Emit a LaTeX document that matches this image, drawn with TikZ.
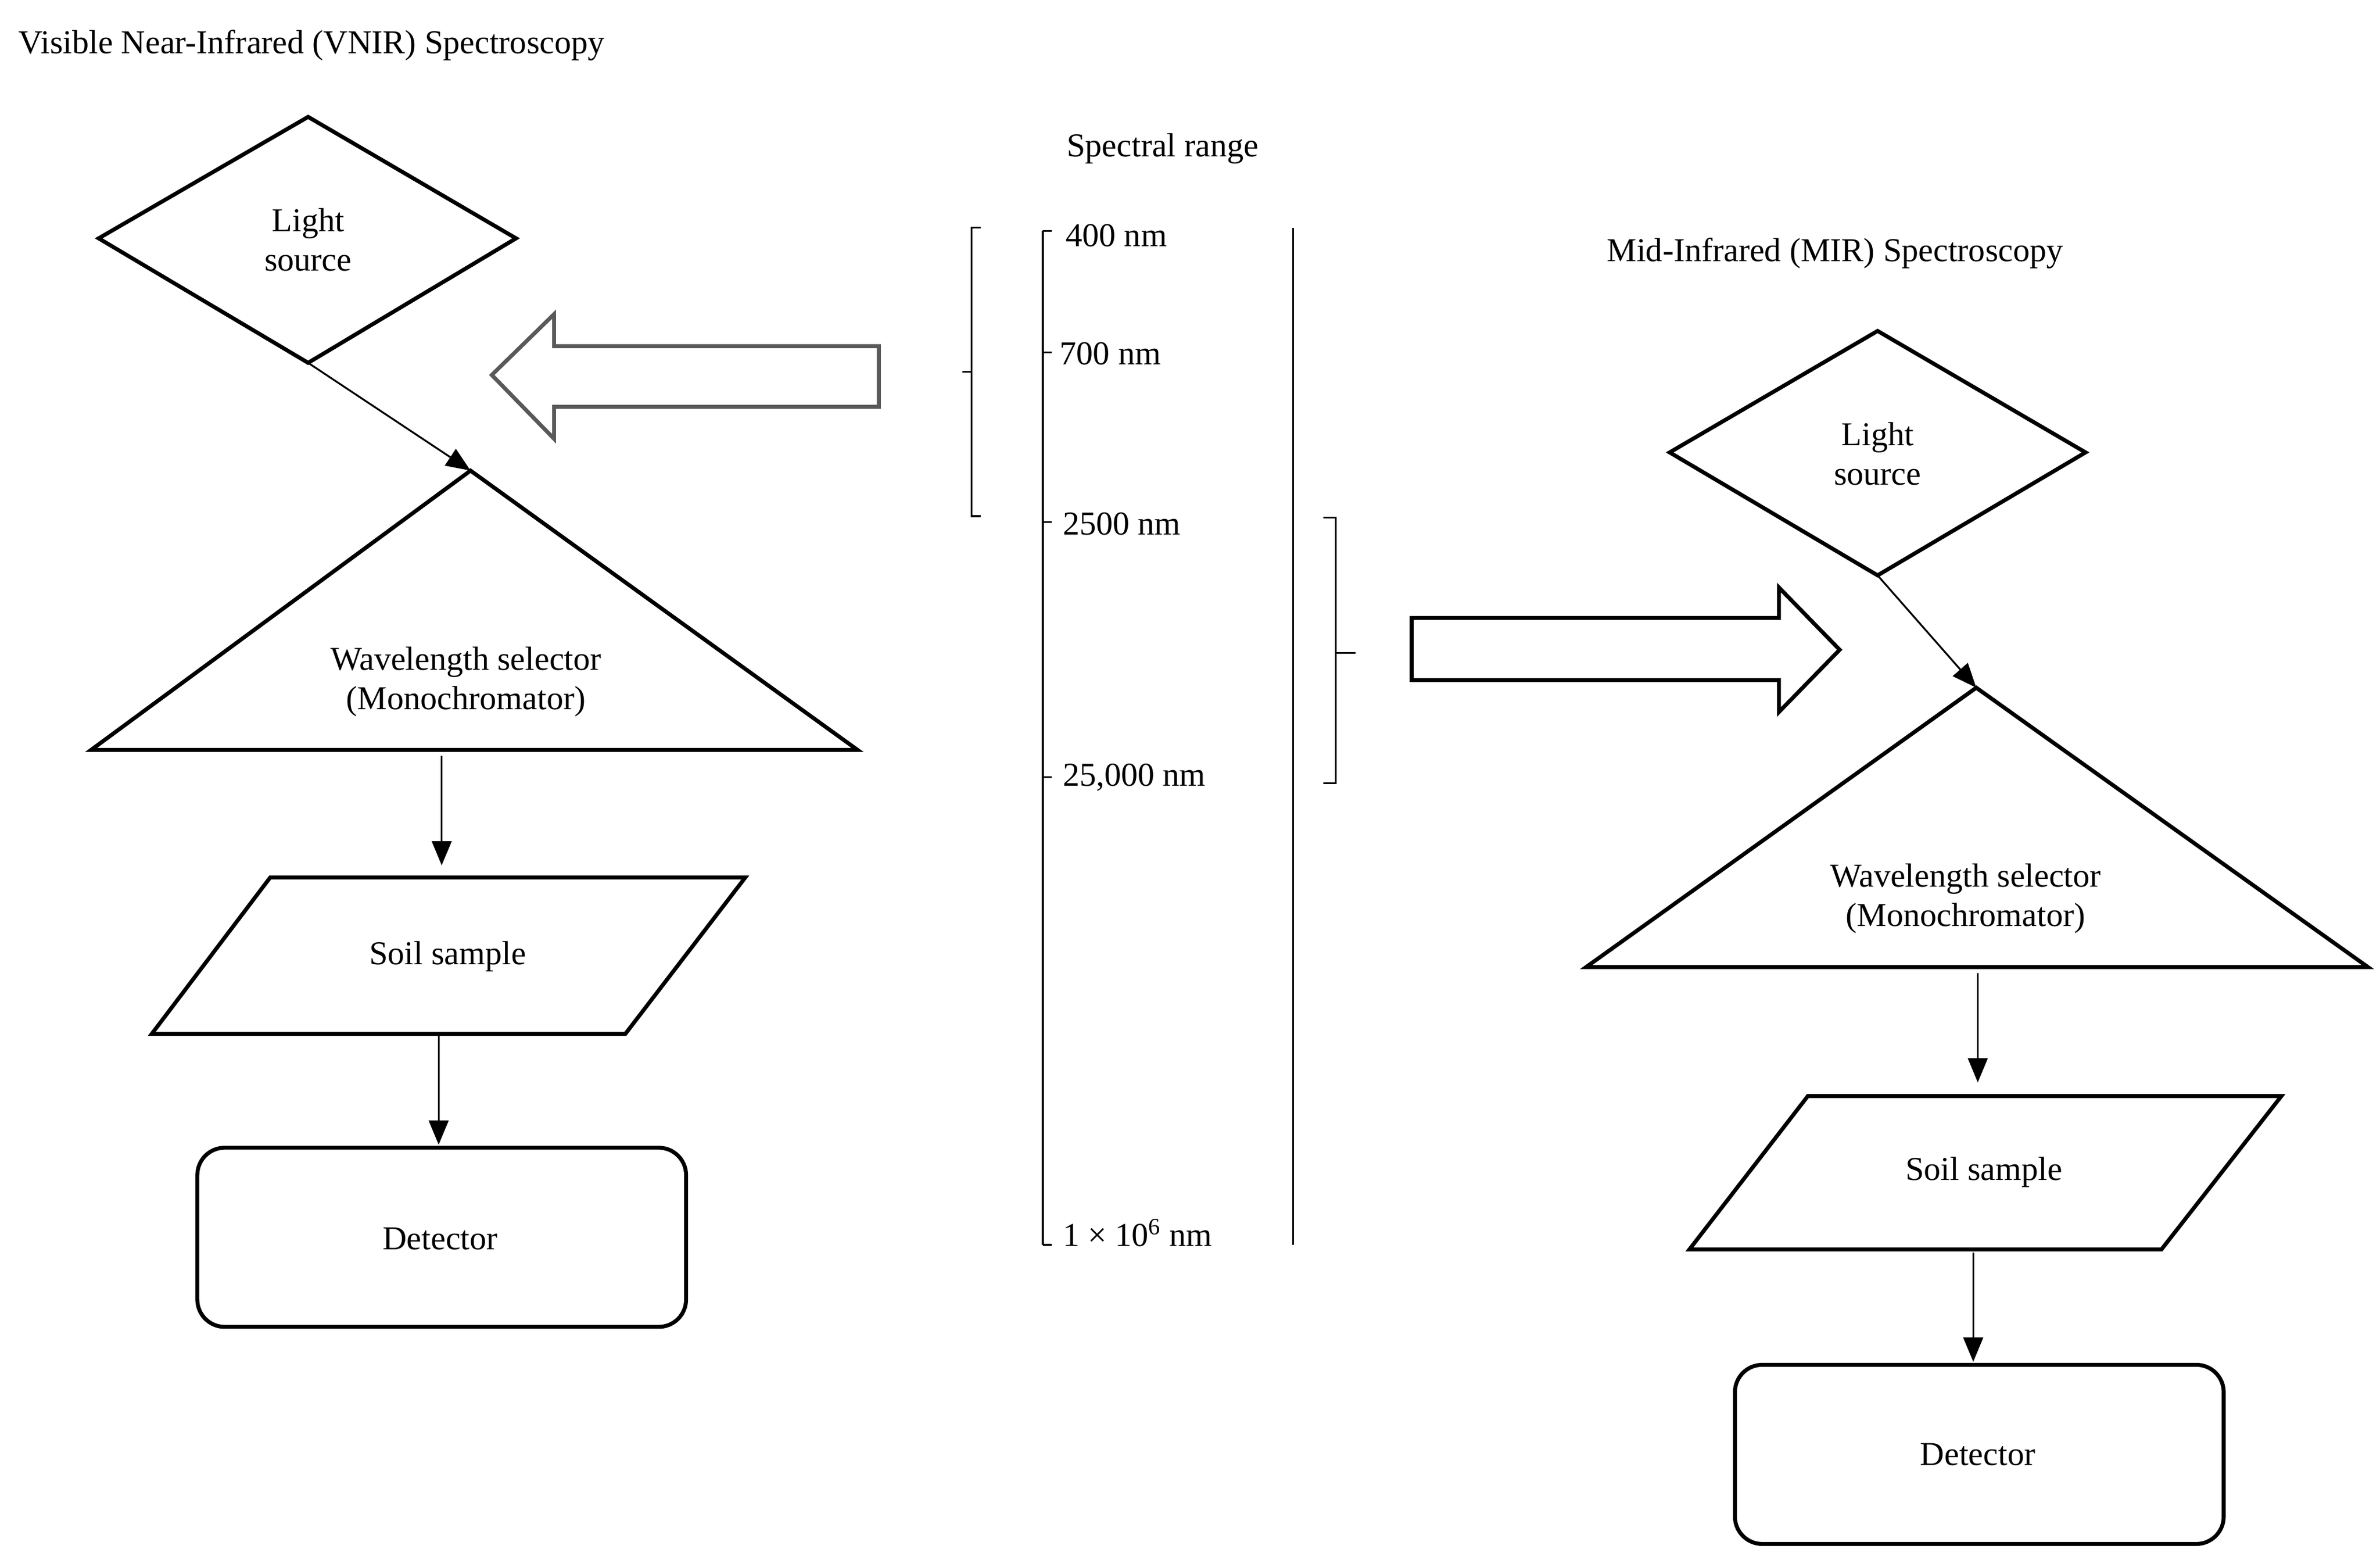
\documentclass[tikz,border=0pt]{standalone}
\usepackage{fontspec}
\setmainfont{Liberation Serif}
\usetikzlibrary{arrows.meta}
\begin{document}
\begin{tikzpicture}[x=1pt,y=-1pt,font=\fontsize{22}{26}\selectfont,
  shp/.style={line width=2.6pt,line join=miter},
  con/.style={line width=1.2pt,-{Triangle[length=16pt,width=13pt]}},
  lab/.style={align=center,inner sep=0pt},
  tick/.style={line width=1.2pt}]
\useasboundingbox (0,0) rectangle (1568,1032);
% titles
\node[lab,anchor=west] (t1) at (12,30) {Visible Near-Infrared (VNIR) Spectroscopy};
\node[lab] (t2) at (766,98) {Spectral range};
\node[lab] (t3) at (1209,167) {Mid-Infrared (MIR) Spectroscopy};
% left chain
\draw[shp] (65,157) -- (203,77) -- (340,157) -- (203,239) -- cycle;
\node[lab] (ls1) at (203,158) {Light\\source};
\coordinate (d1b) at (203,239);
\coordinate (tr1a) at (310,310);
\draw[shp] (310,310) -- (565,494) -- (60,494) -- cycle;
\node[lab] (ws1) at (307,449) {Wavelength selector\\(Monochromator)};
\draw[con] (d1b) -- (tr1a);
\draw[shp] (178,578) -- (491,578) -- (412,681) -- (100,681) -- cycle;
\node[lab] (ss1) at (295,630) {Soil sample};
\coordinate (a1s) at (291,498); \coordinate (a1e) at (291,570);
\draw[con] (a1s) -- (a1e);
\draw[shp,rounded corners=18pt] (130,756) rectangle (452,874);
\node[lab] (de1) at (290,816) {Detector};
\coordinate (a2s) at (289,681); \coordinate (a2e) at (289,754);
\draw[con] (a2s) -- (a2e);
% right chain
\draw[shp] (1100,298) -- (1237,218) -- (1374,298) -- (1237,379) -- cycle;
\node[lab] (ls2) at (1237,299) {Light\\source};
\coordinate (d2b) at (1237,379);
\coordinate (tr2a) at (1302,453);
\draw[shp] (1302,453) -- (1560,637) -- (1045,637) -- cycle;
\node[lab] (ws2) at (1295,592) {Wavelength selector\\(Monochromator)};
\draw[con] (d2b) -- (tr2a);
\draw[shp] (1191,722) -- (1503,722) -- (1424,823) -- (1113,823) -- cycle;
\node[lab] (ss2) at (1307,772) {Soil sample};
\coordinate (b1s) at (1303,641); \coordinate (b1e) at (1303,713);
\draw[con] (b1s) -- (b1e);
\draw[shp,rounded corners=18pt] (1143,899) rectangle (1465,1017);
\node[lab] (de2) at (1303,958) {Detector};
\coordinate (b2s) at (1300,825); \coordinate (b2e) at (1300,897);
\draw[con] (b2s) -- (b2e);
% hollow arrows
\draw[line width=2.6pt,draw=black!65] (579,228) -- (579,268) -- (365,268) -- (365,289) -- (324,247) -- (365,207) -- (365,228) -- cycle;
\draw[shp] (930,407) -- (1172,407) -- (1172,387) -- (1212,428) -- (1172,469) -- (1172,448) -- (930,448) -- cycle;
% axis
\draw[tick] (687,152) -- (687,820);
\foreach \y in {152,232,344,512,820} \draw[tick] (687,\y) -- (693,\y);
\node[lab,anchor=west] (n1) at (702,155) {400 nm};
\node[lab,anchor=west] (n2) at (698,233) {700 nm};
\node[lab,anchor=west] (n3) at (700,345) {2500 nm};
\node[lab,anchor=west] (n4) at (700,512) {25,000 nm};
\node[lab,anchor=west] (n5) at (700,812) {1 × 10\textsuperscript{6} nm};
\draw[tick] (852,150) -- (852,820);
% brackets
\draw[tick] (646,150) -- (640,150) -- (640,340) -- (646,340);
\draw[tick] (640,245) -- (634,245);
\draw[tick] (872,341) -- (880,341) -- (880,516) -- (872,516);
\draw[tick] (880,430) -- (893,430);
\end{tikzpicture}
\end{document}
